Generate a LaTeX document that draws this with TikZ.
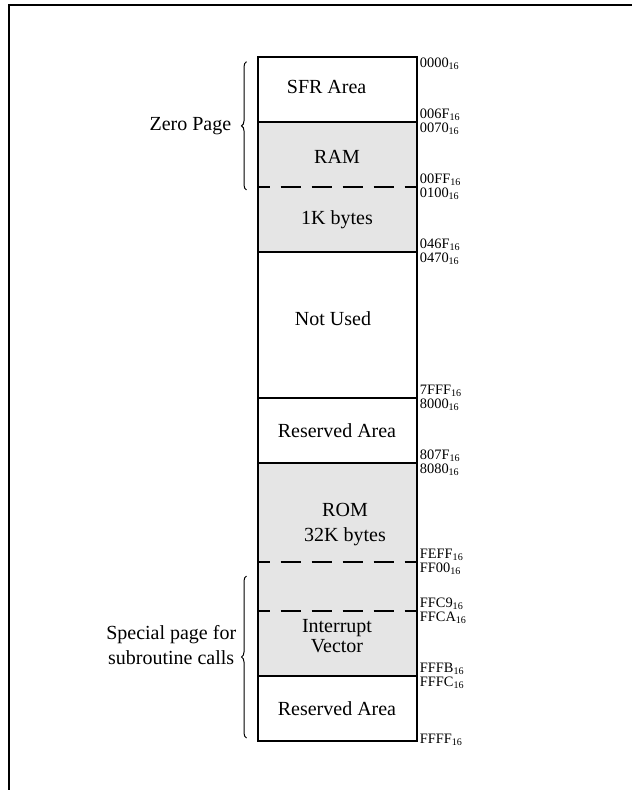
\documentclass[tikz,border=0pt]{standalone}
\usepackage{fontspec}
\setmainfont{Liberation Serif}
\usetikzlibrary{positioning, decorations.pathreplacing}

\begin{document}
\begin{tikzpicture}[
      blk/.style={rectangle, minimum width=79.5pt, inner sep=0pt, outer sep=0pt},
      gry/.style={fill=gray!20},
      txt/.style={font=\fontsize{10}{12.5}\selectfont, align=center, inner sep=0pt},
      addr/.style={font=\fontsize{7.2}{8}\selectfont, inner xsep=1.5pt, inner ysep=0.5pt},
      sepline/.style={line width=0.6pt},
      dsep/.style={line width=0.6pt, dash pattern=on 10pt off 5.5pt, dash phase=4pt},
      brc/.style={decorate, decoration={brace, amplitude=2.5pt}, line width=0.5pt}
    ]
    \useasboundingbox (-128.75pt,28.5pt) rectangle (187.25pt,-366.5pt);
    % Rahmen
    \draw[line width=1pt] (-124.25pt,-366.5pt) |- (187.25pt,26pt);

    % Speicherbereiche
    \node[blk, minimum height=32.5pt, anchor=north west] (sfr) at (0,0) {};
    \node[blk, gry, minimum height=32.5pt, below=0pt of sfr]    (ram)    {};
    \node[blk, gry, minimum height=32.5pt, below=0pt of ram]    (kb)     {};
    \node[blk, minimum height=73pt,        below=0pt of kb]     (unused) {};
    \node[blk, minimum height=32.5pt,      below=0pt of unused] (res1)   {};
    \node[blk, gry, minimum height=49.5pt, below=0pt of res1]   (rom)    {};
    \node[blk, gry, minimum height=24.5pt, below=0pt of rom]    (spare)  {};
    \node[blk, gry, minimum height=32.5pt, below=0pt of spare]  (intv)   {};
    \node[blk, minimum height=32.5pt,      below=0pt of intv]   (res2)   {};

    % Trennlinien
    \foreach \b in {ram, unused, res1, rom, res2}
      \draw[sepline] (\b.north west) -- (\b.north east);
    \foreach \b in {kb, spare, intv}
      \draw[dsep] (\b.north west) -- (\b.north east);
    \draw[line width=1pt] (sfr.north west) rectangle (res2.south east);

    % Beschriftung
    \node[txt, xshift=-5.2pt, yshift=1.4pt] (sfr-t)    at (sfr.center)    {SFR Area};
    \node[txt, yshift=-1pt]                 (ram-t)    at (ram.center)    {RAM};
    \node[txt]                              (kb-t)     at (kb.center)     {1K bytes};
    \node[txt, xshift=-2pt, yshift=3pt]     (unused-t) at (unused.center) {Not Used};
    \node[txt]                              (res1-t)   at (res1.center)   {Reserved Area};
    \node[txt, xshift=4pt, yshift=-5.9pt]   (rom-t)    at (rom.center)    {ROM\\32K bytes};
    \node[txt, font=\fontsize{10}{10}\selectfont, yshift=3.75pt] (intv-t) at (intv.center) {Interrupt\\Vector};
    \node[txt]                              (res2-t)   at (res2.center)   {Reserved Area};

    % Adressen
    \foreach \b/\s/\e in {sfr/0000/006F, ram/0070/00FF, kb/0100/046F, unused/0470/7FFF,
                          res1/8000/807F, rom/8080/FEFF, spare/FF00/FFC9, intv/FFCA/FFFB} {
      \node[addr, anchor=north west] (\b-lo) at (\b.north east) {\s\textsubscript{16}};
      \node[addr, anchor=south west] (\b-hi) at (\b.south east) {\e\textsubscript{16}};
    }
    \node[addr, anchor=north west]      (res2-lo) at (res2.north east) {FFFC\textsubscript{16}};
    \node[addr, anchor=west, yshift=0.5pt] (res2-hi) at (res2.south east) {FFFF\textsubscript{16}};

    % Klammern
    \draw[brc] ([xshift=-5.5pt, yshift=-1.5pt]kb.north west)
      -- node[txt, left=7.4pt] (zp) {Zero Page}
      ([xshift=-5.5pt, yshift=-2.35pt]sfr.north west);
    \draw[brc] ([xshift=-5.5pt, yshift=1.5pt]res2.south west)
      -- node[txt, left=4.9pt, yshift=5.75pt] (spg) {Special page for\\subroutine calls}
      ([xshift=-5.5pt, yshift=-7pt]spare.north west);
  \end{tikzpicture}
\end{document}
